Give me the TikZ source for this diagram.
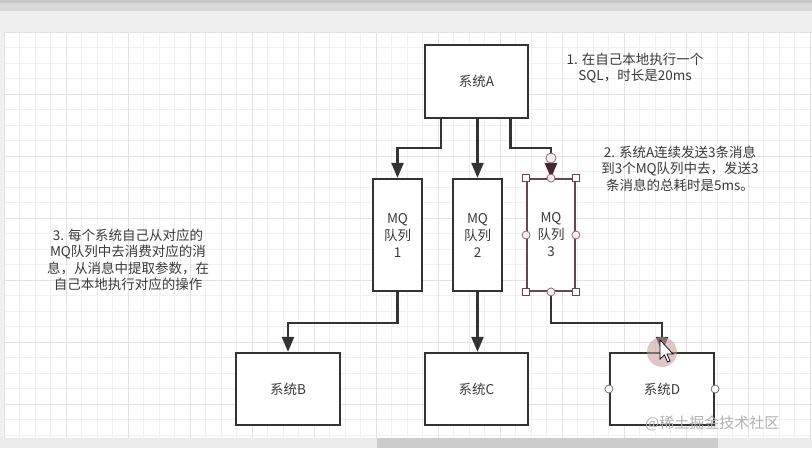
\documentclass[tikz,border=0pt]{standalone}
\usepackage{fontspec}
\setmainfont{Noto Sans CJK SC}
\usetikzlibrary{arrows.meta}
\definecolor{ink}{HTML}{333333}
\definecolor{txt}{HTML}{3A3A3A}
\definecolor{gridminor}{HTML}{F1F1F1}
\definecolor{gridmajor}{HTML}{E2E2E2}
\definecolor{selc}{HTML}{6B4552}
\definecolor{selarrow}{HTML}{4A2532}
\definecolor{handlefill}{HTML}{F7EFF1}
\tikzset{
  box/.style={draw=ink, line width=2.2pt, fill=white, inner sep=0pt, font=\fontsize{13.5}{17}\selectfont, text=txt, align=center},
  arr/.style={draw=ink, line width=2.2pt, -{Triangle[length=15pt,width=12pt]}},
  selarr/.style={draw=ink, line width=2.2pt, -{Triangle[length=15pt,width=12pt,color=selarrow]}},
  note/.style={font=\fontsize{13.5}{16.5}\selectfont, text=txt, align=center, inner sep=0pt},
  sq/.style={draw=selc, line width=0.8pt, fill=white, minimum size=7pt, inner sep=0pt},
  hc/.style={circle, draw=selc!80, line width=0.8pt, fill=handlefill, minimum size=8pt, inner sep=0pt},
  gc/.style={circle, draw=black!55, line width=0.8pt, fill=white, minimum size=8pt, inner sep=0pt}
}
\begin{document}
\begin{tikzpicture}[x=1pt,y=-1pt]
% background / frame
\useasboundingbox (0,0) rectangle (812,448);
\fill[white] (0,0) rectangle (812,448);
\fill[black!22] (0,0) rectangle (812,3);
\fill[black!15] (0,3) rectangle (812,11);
\fill[black!6] (0,11) rectangle (812,32);
\fill[black!6] (0,32) rectangle (4,448);
% grid
\foreach \i in {0,...,52} {
  \pgfmathsetmacro\xx{4+15.5*\i}
  \draw[gridminor, line width=0.6pt] (\xx,32) -- (\xx,438);
}
\foreach \j in {0,...,26} {
  \pgfmathsetmacro\yy{32+15.5*\j}
  \draw[gridminor, line width=0.6pt] (4,\yy) -- (812,\yy);
}
\foreach \i in {0,...,13} {
  \pgfmathsetmacro\xx{4+62*\i}
  \draw[gridmajor, line width=0.7pt] (\xx,32) -- (\xx,438);
}
\foreach \j in {0,...,6} {
  \pgfmathsetmacro\yy{32+62*\j}
  \draw[gridmajor, line width=0.7pt] (4,\yy) -- (812,\yy);
}
% bottom scrollbar
\fill[black!8] (0,438) rectangle (812,448);
\fill[black!20] (377,438) rectangle (718,448);

% nodes
\node[box, minimum width=103pt, minimum height=73pt] (A) at (476.5,81.5) {系统A};
\node[box, minimum width=49pt, minimum height=112pt] (M1) at (397.5,235) {MQ\\队列\\1};
\node[box, minimum width=49pt, minimum height=112pt] (M2) at (477.5,235) {MQ\\队列\\2};
\node[box, draw=selc, line width=1.8pt, minimum width=48pt, minimum height=112pt] (M3) at (551,235) {MQ\\队列\\3};
\node[box, minimum width=104pt, minimum height=72pt] (B) at (288,389) {系统B};
\node[box, minimum width=103pt, minimum height=72pt] (C) at (476.5,389) {系统C};
\node[box, minimum width=104pt, minimum height=72pt] (D) at (662,389) {系统D};

% connectors
\draw[arr] ([xshift=-35.5pt]A.south) |- (M1.north |- 0,148) -- (M1.north);
\draw[arr] (A.south -| M2.north) -- (M2.north);
\draw[selarr] ([xshift=34pt]A.south) |- (M3.north |- 0,148) -- (M3.north);
\draw[arr] (M1.south) |- (B.north |- 0,323) -- (B.north);
\draw[arr] (M2.south) -- (C.north -| M2.south);
\draw[arr] (M3.south) |- (D.north |- 0,323) -- (D.north);

% selection handles
\coordinate (e3) at (551,158);
\node[hc, minimum size=10pt] (h0) at (e3) {};
\node[sq] (s1) at (M3.north west) {};
\node[sq] (s2) at (M3.north east) {};
\node[sq] (s3) at (M3.south west) {};
\node[sq] (s4) at (M3.south east) {};
\node[hc] (c1) at (M3.north) {};
\node[hc] (c2) at (M3.west) {};
\node[hc] (c3) at (M3.east) {};
\node[hc] (c4) at (M3.south) {};
\node[gc] (d1) at (D.west) {};
\node[gc] (d2) at (D.east) {};

% notes
\node[note] (n1) at (635,68) {1. 在自己本地执行一个\\SQL，时长是20ms};
\node[note] (n2) at (680,168.5) {2. 系统A连续发送3条消息\\到3个MQ队列中去，发送3\\条消息的总耗时是5ms。};
\node[note] (n3) at (128,260) {3. 每个系统自己从对应的\\MQ队列中去消费对应的消\\息，从消息中提取参数，在\\自己本地执行对应的操作};

% cursor highlight
\fill[red!45!black!40, opacity=0.55] (662,352) circle (15);
\draw[black, line width=0.7pt, fill=white] (660,340) -- (660,359) -- (664.5,355) -- (667.5,362) -- (670,361) -- (667,354) -- (673,354) -- cycle;

% watermark
\node[font=\fontsize{15}{15}\selectfont, text=black!30, inner sep=0pt, anchor=west] (wm) at (645,423) {@稀土掘金技术社区};
\end{tikzpicture}
\end{document}
